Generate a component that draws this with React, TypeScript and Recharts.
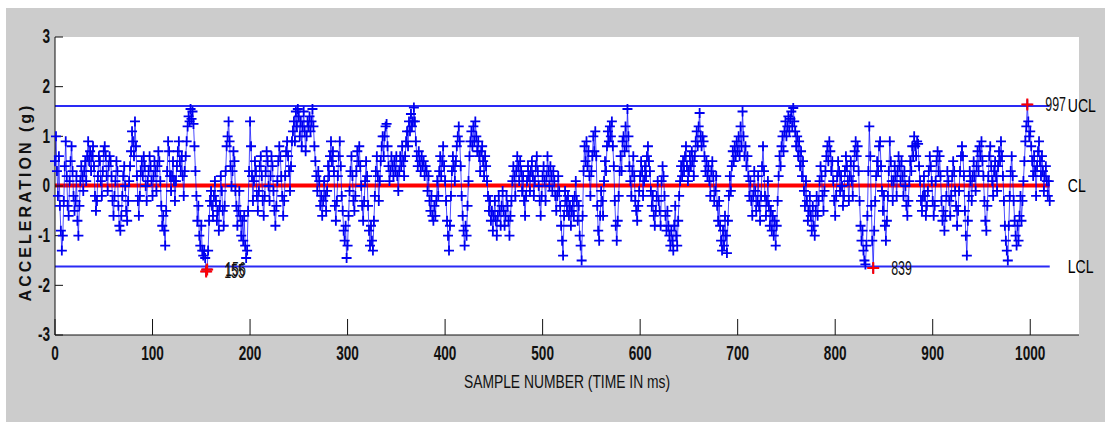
import React from 'react';
import { ComposedChart, Line, Scatter, XAxis, YAxis, CartesianGrid } from 'recharts';

// acceleration samples (g), sample number = index
const samples: number[] = [
  0.5,1.0,0.3,-0.2,0.6,-0.4,-0.9,-1.3,-1.0,-0.3, 0.4,0.9,0.2,-0.4,-0.6,0.1,0.5,0.8,0.3,-0.2,
  -0.5,-0.3,0.2,-0.7,-1.0,-0.4,0.1,0.4,0.2,-0.1, 0.3,0.5,0.1,0.6,0.9,0.5,0.7,0.3,0.6,0.8,
  0.4,-0.2,-0.5,-0.3,0.2,0.6,0.5,0.1,-0.2,0.3, 0.7,0.8,0.6,0.2,-0.1,0.4,0.6,0.5,0.2,-0.3,
  -0.6,-0.2,0.1,0.5,0.3,-0.4,-0.8,-0.9,-0.6,-0.2, 0.2,0.4,0.0,-0.5,-0.7,-0.3,0.1,0.4,0.7,1.1,
  0.9,0.6,1.3,0.8,0.2,-0.3,-0.6,-0.2,0.3,0.5, 0.2,0.6,0.4,0.0,-0.3,0.1,0.3,0.6,0.4,0.1,
  -0.2,0.2,0.5,0.3,-0.1,0.4,0.7,0.5,0.1,-0.4, -0.8,-0.6,-0.9,-1.2,-0.5,0.3,0.9,0.7,0.2,-0.1,
  0.2,0.5,0.1,-0.3,0.1,0.4,0.7,0.9,0.5,0.3, 0.6,0.2,-0.2,0.3,0.6,0.9,1.2,1.4,1.3,1.55,
  1.35,1.5,1.25,0.8,0.3,-0.2,-0.7,-0.4,-1.0,-1.2, -0.8,-1.3,-1.4,-1.3,-1.45,-1.72,-1.68,-1.3,-0.7,-0.3,
  -0.1,-0.4,-0.6,-0.2,0.1,-0.3,-0.7,-0.5,-0.9,-0.4, 0.2,-0.1,-0.5,-0.8,-0.4,0.3,0.8,1.0,1.3,0.9,
  0.4,0.0,0.3,0.7,0.5,-0.1,-0.4,-0.8,-0.5,-0.1, -0.6,-1.0,-0.7,-1.1,-0.6,-1.2,-1.45,-1.3,-0.5,0.3,
  1.3,0.8,0.2,-0.3,0.1,0.5,0.3,-0.2,-0.5,-0.1, 0.4,0.6,0.2,-0.3,-0.6,-0.2,0.3,0.7,0.5,0.0,
  -0.3,0.2,0.6,0.4,-0.1,-0.5,-0.8,-0.4,0.1,0.5, 0.8,0.6,0.2,-0.2,-0.6,-0.3,0.2,0.7,0.9,0.6,
  0.3,-0.1,0.4,0.9,1.1,1.3,0.9,1.5,1.2,1.55, 1.4,1.0,1.3,0.8,1.2,1.5,1.1,0.7,1.0,1.3,
  1.2,1.4,1.1,1.3,1.55,1.2,0.8,0.5,0.2,-0.1, 0.3,0.1,-0.4,-0.2,-0.6,-0.3,0.1,-0.2,-0.5,-0.1,
  0.4,0.2,0.6,0.9,0.5,0.7,0.3,-0.4,-0.7,-0.3, 0.2,0.6,0.9,0.4,-0.2,-0.5,-0.9,-1.1,-0.8,-1.45,
  -1.2,-0.6,-0.1,0.3,0.6,0.2,-0.3,-0.5,-0.2,0.3, 0.7,0.5,0.8,0.4,0.0,-0.4,-0.7,-0.3,0.1,0.5,
  0.2,-0.4,-0.9,-1.2,-0.8,-1.1,-1.3,-0.7,-0.2,0.3, 0.6,0.2,-0.3,0.1,0.5,0.8,1.0,0.6,1.0,1.2,
  1.25,0.8,0.4,0.1,0.3,0.6,0.4,0.2,0.5,0.3, 0.6,0.2,-0.1,0.3,0.6,0.4,0.8,0.5,0.2,0.6,
  0.9,1.1,0.8,1.3,1.1,1.45,1.2,1.3,1.58,1.3, 0.9,0.6,0.4,0.7,0.5,0.3,0.6,0.4,0.5,0.2,
  0.4,0.3,-0.1,0.2,-0.3,-0.5,-0.2,-0.6,-0.7,-0.4, -0.6,-0.3,0.1,-0.2,0.3,0.6,0.2,0.5,0.8,0.4,
  0.1,-0.3,-0.7,-1.0,-1.3,-0.8,-0.2,0.3,0.6,0.4, 0.1,0.5,0.8,1.0,1.2,0.9,0.4,-0.2,-0.6,-0.9,
  -1.2,-0.8,-1.0,-0.4,0.1,0.6,0.9,1.1,0.8,1.2, 0.9,1.3,1.0,0.7,0.9,0.6,0.3,0.7,0.8,0.5,
  0.2,0.6,0.4,0.1,-0.2,-0.5,-0.3,-0.7,-0.5,-0.9, -0.6,-0.3,-0.7,-1.0,-0.6,-0.2,-0.5,-0.8,-0.4,-0.1,
  -0.5,-0.8,-0.6,-0.2,-0.4,-0.7,-1.0,-0.6,-0.3,0.1, 0.4,0.2,-0.2,0.3,0.6,0.4,0.1,0.5,0.3,-0.1,
  0.2,-0.3,-0.6,-0.2,0.1,0.4,0.2,-0.1,0.3,0.5, 0.2,-0.2,0.1,0.4,0.6,0.3,0.0,-0.3,-0.6,-0.2,
  0.2,0.4,0.1,-0.3,0.2,0.6,0.3,0.0,0.4,0.2, -0.1,0.3,0.1,-0.2,-0.5,-0.2,0.2,-0.1,-0.4,-0.8,
  -1.1,-1.4,-0.6,-0.1,-0.3,-0.5,-0.2,-0.6,-0.4,-0.8, -0.5,-0.3,-0.6,-0.2,0.1,-0.3,-0.7,-0.4,-1.0,-1.2,
  -1.5,-0.6,0.3,0.8,0.5,0.9,0.4,0.7,0.2,-0.2, 0.3,0.6,1.0,0.7,1.1,0.6,-0.4,-0.9,-1.1,-0.6,
  -0.1,-0.3,-0.6,0.1,0.5,0.3,0.8,1.1,0.9,1.2, 1.0,1.3,0.8,0.4,-0.3,-0.8,-1.1,-0.7,-0.2,0.3,
  0.6,0.3,0.9,1.0,0.7,1.2,0.8,1.55,1.0,0.4, 0.1,-0.2,0.3,0.6,0.2,-0.3,-0.5,-0.7,-0.4,-0.1,
  0.2,0.5,0.3,-0.2,0.1,0.4,0.2,0.6,0.8,0.5, 0.3,-0.1,-0.4,-0.2,-0.6,-0.8,-0.5,-0.2,0.1,-0.3,
  -0.5,-0.8,0.1,0.4,0.2,-0.2,-0.6,-0.9,-0.5,-0.8, -1.0,-1.2,-0.9,-1.1,-1.3,-0.8,-0.4,-1.0,-1.2,-0.7,
  -0.2,0.1,0.4,0.2,0.5,0.3,0.6,0.8,0.4,0.1, 0.3,0.6,0.4,0.7,0.5,0.2,0.6,0.9,1.1,0.8,
  1.2,1.47,1.0,0.8,1.0,0.9,0.6,0.3,0.5,0.2, 0.4,0.1,-0.2,0.3,0.5,0.2,-0.3,-0.1,0.2,-0.4,
  -0.7,-0.3,-0.8,-1.1,-1.3,-0.9,-1.2,-0.6,-1.0,-1.35, -0.7,-0.2,0.2,-0.1,0.4,0.7,0.5,0.8,0.6,0.9,
  0.7,1.0,0.6,1.2,0.8,1.5,1.0,0.6,0.8,0.4, 0.6,0.2,-0.2,0.1,-0.3,-0.6,-0.2,0.3,-0.1,-0.5,
  -0.3,0.2,-0.4,-0.7,-0.2,0.4,0.8,0.3,-0.2,-0.6, -0.3,0.1,-0.4,-0.8,-0.5,-0.9,-0.6,-1.0,-0.7,-1.2,
  -0.8,-0.3,0.2,0.6,0.4,0.8,1.0,0.7,1.1,1.3, 1.0,1.2,1.4,1.1,1.35,1.5,1.2,1.57,1.3,1.1,
  0.8,1.0,0.6,0.9,0.4,0.7,0.2,0.5,-0.1,-0.4, 0.1,-0.3,-0.7,-0.5,-0.2,-0.6,-0.9,-0.4,-0.8,-1.0,
  -0.5,-0.2,-0.6,-0.3,0.1,0.4,0.2,-0.2,-0.5,-0.1, 0.3,0.6,0.8,0.5,0.9,0.7,0.3,0.5,0.1,-0.3,
  -0.6,-0.2,0.2,0.5,0.3,-0.1,0.2,0.0,-0.4,-0.2, 0.3,0.6,0.4,0.1,-0.3,0.2,0.5,0.1,-0.2,0.4,
  0.7,0.9,0.6,0.8,0.3,-0.3,-0.8,-1.1,-0.9,-1.3, -1.5,-1.58,-1.2,-0.6,0.3,1.2,0.6,-0.4,-1.1,-1.65,
  -0.9,-0.3,0.2,0.5,0.3,0.8,0.9,0.4,-0.1,-0.5, -0.2,-0.8,-1.1,-0.7,-0.2,0.3,0.9,0.5,0.1,-0.3,
  0.1,0.4,0.2,-0.2,0.3,0.6,0.4,0.1,0.5,0.2, -0.2,0.3,0.0,-0.4,-0.6,-0.3,0.1,0.5,0.3,0.8,
  0.6,1.0,0.8,0.6,0.9,0.85,0.4,0.1,-0.3,-0.5, -0.2,0.2,-0.2,-0.6,-0.4,-0.1,0.3,0.6,0.4,0.1,
  -0.3,-0.6,-0.4,0.1,0.5,0.7,0.3,0.6,0.2,-0.3, -0.7,-0.5,-0.9,-0.6,-0.2,0.3,0.1,-0.3,-0.6,-0.2,
  0.2,0.5,0.3,-0.1,-0.4,-0.8,-0.5,-0.1,0.3,0.6, 0.8,0.6,0.2,-0.5,-1.0,-1.4,-0.7,-0.2,0.3,0.1,
  -0.3,0.2,0.5,0.2,-0.1,0.4,0.7,0.3,0.8,0.6, 0.9,0.5,0.2,-0.3,-0.7,-0.9,-0.4,0.2,0.6,0.8,
  0.4,0.1,-0.2,0.3,0.5,0.2,-0.1,0.4,0.7,0.5, 0.9,0.6,0.2,-0.3,-0.8,-1.1,-1.3,-1.5,-0.8,-0.2,
  0.3,0.6,0.2,-0.3,-0.7,-1.0,-1.2,-0.8,-1.1,-0.6, -0.2,-0.7,-0.3,0.1,0.5,0.9,1.2,1.64,1.3,1.0,
  1.1,0.8,0.5,0.2,0.6,0.3,-0.2,0.4,0.7,0.9, 0.5,0.2,0.6,0.3,-0.1,0.2,0.4,0.1,-0.2,0.1, -0.3,
];

// out-of-control sample numbers (marked red and labelled)
const flaggedSamples: number[] = [155, 156, 839, 997];

// control limits
const UCL = 1.61;
const CL = 0.01;
const LCL = -1.62;
const limitStart = 0;
const limitEnd = 1020;
const limitNames: string[] = ['UCL', 'CL', 'LCL'];
const limitValues: number[] = [UCL, CL, LCL];

const xTicks: number[] = [0, 100, 200, 300, 400, 500, 600, 700, 800, 900, 1000];
const yTicks: number[] = [-3, -2, -1, 0, 1, 2, 3];
const xTitle = 'SAMPLE NUMBER (TIME IN ms)';
const yTitle = 'ACCELERATION (g)';

const series = samples.map((v, n) => ({ n, v }));
const flagged = flaggedSamples.map((n) => ({ n, v: samples[n] }));
const limitSeries = limitValues.map((val) => [
  { n: limitStart, v: val },
  { n: limitEnd, v: val },
]);

const SANS = "'Liberation Sans', Arial, sans-serif";
const BLUE = '#0000f0';

// condensed text helper (reference uses a tall narrow face)
const Narrow = ({ x, y, sx, size, bold, anchor, baseline, children, fill }: any) => (
  <text
    transform={`translate(${x},${y}) scale(${sx},1)`}
    textAnchor={anchor || 'start'}
    dominantBaseline={baseline || 'central'}
    fontFamily={SANS}
    fontSize={size}
    fontWeight={bold ? 700 : 400}
    fill={fill || '#111'}
  >
    {children}
  </text>
);

const plusDot = (p: any) => {
  const { cx, cy, index } = p;
  if (cx == null || cy == null) return <g key={`d${index}`} />;
  return (
    <path
      key={`d${index}`}
      d={`M${cx - 5},${cy}h10M${cx},${cy - 5}v10`}
      stroke={BLUE}
      strokeWidth={1.8}
      fill="none"
    />
  );
};

const flaggedShape = (p: any) => {
  const { cx, cy, payload } = p;
  return (
    <g>
      <path d={`M${cx - 6},${cy}h12M${cx},${cy - 6}v12`} stroke="#ff0000" strokeWidth={2} fill="none" />
      <Narrow x={cx + 18} y={cy} sx={0.62} size={20}>
        {String(payload.n)}
      </Narrow>
    </g>
  );
};

const limitLabelDot = (name: string) => (p: any) => {
  const { cx, cy, index } = p;
  if (index !== 1) return <g key={`l${index}`} />;
  return (
    <g key={`l${index}`}>
      <Narrow x={cx + 18} y={cy} sx={0.74} size={19} fill="#000">
        {name}
      </Narrow>
    </g>
  );
};

const XTick = (p: any) => {
  const { x, y, payload } = p;
  return (
    <Narrow x={x} y={y} sx={0.68} size={20} bold anchor="middle" baseline="hanging">
      {String(payload.value)}
    </Narrow>
  );
};

const YTick = (p: any) => {
  const { x, y, payload } = p;
  return (
    <Narrow x={x} y={y} sx={0.68} size={20} bold anchor="end">
      {String(payload.value)}
    </Narrow>
  );
};

export default function App() {
  return (
    <div>
      <style>{`body{margin:0}`}</style>
      <div style={{ marginLeft: 6, marginTop: 8, width: 1099, height: 414, background: '#cccccc' }}>
        <ComposedChart
          width={1099}
          height={414}
          margin={{ top: 29, right: 26, left: 9, bottom: 57 }}
        >
          <CartesianGrid horizontal={false} vertical={false} fill="#ffffff" stroke="none" />
          <XAxis
            dataKey="n"
            type="number"
            domain={[0, 1050]}
            ticks={xTicks}
            height={30}
            tickSize={-16}
            tickMargin={27}
            tick={XTick}
            axisLine={{ stroke: '#111' }}
            tickLine={{ stroke: '#111' }}
            label={{
              content: (props: any) => {
                const vb = props.viewBox || { x: 49, y: 327, width: 1024, height: 30 };
                return (
                  <Narrow
                    x={vb.x + vb.width / 2}
                    y={vb.y + vb.height + 10}
                    sx={0.77}
                    size={18}
                    anchor="middle"
                    baseline="hanging"
                  >
                    {xTitle}
                  </Narrow>
                );
              },
            }}
          />
          <XAxis
            xAxisId="top"
            orientation="top"
            type="number"
            domain={[0, 1050]}
            ticks={xTicks}
            allowDataOverflow
            height={0}
            tickSize={-16}
            tick={false}
            axisLine={{ stroke: '#111' }}
            tickLine={{ stroke: '#111' }}
          />
          <YAxis
            type="number"
            domain={[-3, 3]}
            ticks={yTicks}
            width={40}
            tickSize={-8}
            tickMargin={13}
            tick={YTick}
            axisLine={{ stroke: '#111' }}
            tickLine={{ stroke: '#111' }}
            label={{
              content: (props: any) => {
                const vb = props.viewBox || { x: 9, y: 29, width: 40, height: 298 };
                const x = vb.x + 10;
                const y = vb.y + vb.height / 2 + 16;
                return (
                  <text
                    x={x}
                    y={y}
                    transform={`rotate(-90 ${x} ${y})`}
                    textAnchor="middle"
                    dominantBaseline="central"
                    fontFamily={SANS}
                    fontWeight={700}
                    fontSize={16}
                    letterSpacing={3}
                    fill="#111"
                  >
                    {yTitle}
                  </text>
                );
              },
            }}
          />
          <YAxis
            yAxisId="r"
            orientation="right"
            type="number"
            domain={[-3, 3]}
            ticks={yTicks}
            allowDataOverflow
            width={0}
            tickSize={-8}
            tick={false}
            axisLine={{ stroke: '#111' }}
            tickLine={{ stroke: '#111' }}
          />
          {limitSeries.map((d, i) => (
            <Line
              key={limitNames[i]}
              data={d}
              dataKey="v"
              type="linear"
              stroke={i === 1 ? '#ff0000' : '#2a2af5'}
              strokeWidth={i === 1 ? 4 : 2}
              dot={limitLabelDot(limitNames[i])}
              activeDot={false}
              isAnimationActive={false}
            />
          ))}
          <Line
            data={series}
            dataKey="v"
            type="linear"
            stroke="#0000ff"
            strokeOpacity={0.7}
            strokeWidth={1}
            dot={plusDot}
            activeDot={false}
            isAnimationActive={false}
          />
          <Scatter data={flagged} dataKey="v" shape={flaggedShape} isAnimationActive={false} />
        </ComposedChart>
      </div>
    </div>
  );
}
